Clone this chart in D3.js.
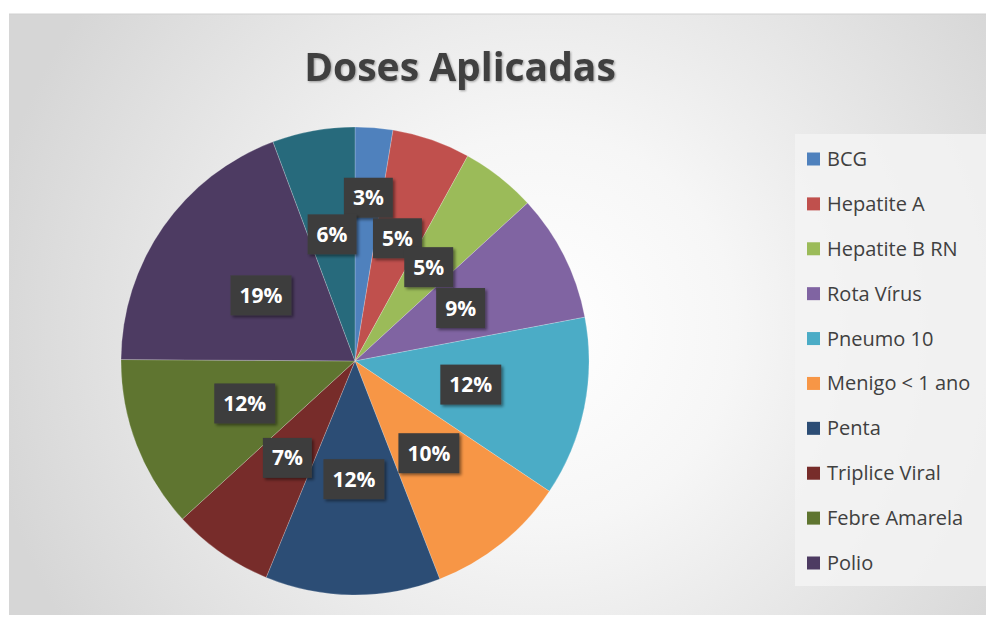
<!DOCTYPE html>
<html><head><meta charset="utf-8">
<script src="https://cdn.jsdelivr.net/npm/d3@7/dist/d3.min.js"></script>
<style>html,body{margin:0;padding:0;background:#fff;}svg{display:block;}</style>
</head><body>
<svg id="chart" width="986" height="619"></svg>
<script>
// ---- data ----
const title = "Doses Aplicadas";
const categories = ["BCG","Hepatite A","Hepatite B RN","Rota Vírus","Pneumo 10","Menigo < 1 ano","Penta","Triplice Viral","Febre Amarela","Polio",""];
const values = [2.6, 5.4, 5.2, 8.8, 12.4, 9.7, 12.1, 7.0, 11.9, 19.2, 5.7];
const colors = ["#4F81BD","#C0504D","#9BBB59","#8064A2","#4BACC6","#F79646","#2C4D75","#772C2A","#5F7530","#4D3B62","#276A7C"];
// label radius as fraction of pie radius (best-fit placement)
const labelRadius = [0.70, 0.555, 0.51, 0.505, 0.505, 0.505, 0.505, 0.505, 0.505, 0.49, 0.55];

const svg = d3.select("#chart");
const defs = svg.append("defs");
const bg = defs.append("radialGradient").attr("id","bg").attr("gradientUnits","userSpaceOnUse")
  .attr("cx",540).attr("cy",330).attr("r",560);
bg.append("stop").attr("offset","0%").attr("stop-color","#ffffff");
bg.append("stop").attr("offset","35%").attr("stop-color","#f6f6f6");
bg.append("stop").attr("offset","100%").attr("stop-color","#d6d6d6");
const sh = defs.append("filter").attr("id","sh").attr("x","-30%").attr("y","-30%").attr("width","160%").attr("height","160%");
sh.append("feDropShadow").attr("dx",2).attr("dy",2).attr("stdDeviation",1.5).attr("flood-color","#000").attr("flood-opacity",0.45);
const tsh = defs.append("filter").attr("id","tsh").attr("x","-10%").attr("y","-20%").attr("width","120%").attr("height","140%");
tsh.append("feDropShadow").attr("dx",1).attr("dy",1).attr("stdDeviation",1).attr("flood-color","#000").attr("flood-opacity",0.35);

// chart area
svg.append("rect").attr("x",9).attr("y",14).attr("width",977).attr("height",601).attr("fill","url(#bg)");
svg.append("line").attr("x1",9).attr("x2",986).attr("y1",14).attr("y2",14).attr("stroke","#d0d0d0");

// title
svg.append("text").attr("x",460).attr("y",81).attr("text-anchor","middle")
  .attr("font-family","Open Sans").attr("font-weight",700).attr("font-size",39)
  .attr("fill","#404040").attr("filter","url(#tsh)").text(title);

// pie
const cx = 355, cy = 361, R = 234;
const total = d3.sum(values);
const data = categories.map((c,i)=>({name:c, value:values[i], color:colors[i], lr:labelRadius[i]}));
const pie = d3.pie().value(d=>d.value).sort(null);
const arcs = pie(data);
const arc = d3.arc().innerRadius(0).outerRadius(R);
const g = svg.append("g").attr("transform",`translate(${cx},${cy})`);
g.selectAll("path.slice").data(arcs).join("path").attr("class","slice")
  .attr("d",arc).attr("fill",d=>d.data.color).attr("stroke","#ffffff").attr("stroke-opacity",0.3).attr("stroke-width",0.7);

const fmt = d3.format(".0%");
const lg = g.selectAll("g.lab").data(arcs).join("g").attr("class","lab")
  .attr("transform",d=>{
    const a = (d.startAngle+d.endAngle)/2, r = R*d.data.lr;
    return `translate(${r*Math.sin(a)},${-r*Math.cos(a)})`;
  });
lg.each(function(d){
  const s = d3.select(this);
  const txt = fmt(d.value/total);
  const t = s.append("text").attr("text-anchor","middle").attr("dy","0.36em")
    .attr("font-family","Open Sans").attr("font-weight",700).attr("font-size",21)
    .attr("fill","#ffffff").text(txt);
  const w = t.node().getComputedTextLength();
  s.insert("rect","text").attr("x",-w/2-9).attr("y",-20).attr("width",w+18).attr("height",40)
    .attr("fill","#3d3d3d").attr("filter","url(#sh)");
});

// legend
const legItems = data.filter(d=>d.name!=="");
svg.append("rect").attr("x",795).attr("y",134).attr("width",191).attr("height",452).attr("fill","#f3f3f3").attr("opacity",0.85);
const ly = d3.scalePoint().domain(legItems.map(d=>d.name)).range([159,563]);
const leg = svg.append("g").selectAll("g").data(legItems).join("g")
  .attr("transform",d=>`translate(807,${ly(d.name)})`);
leg.append("rect").attr("x",0).attr("y",-6.5).attr("width",13).attr("height",13).attr("fill",d=>d.color);
leg.append("text").attr("x",20).attr("dy","0.35em").attr("font-family","Open Sans").attr("font-size",20)
  .attr("fill","#404040").text(d=>d.name);
</script>
</body></html>
